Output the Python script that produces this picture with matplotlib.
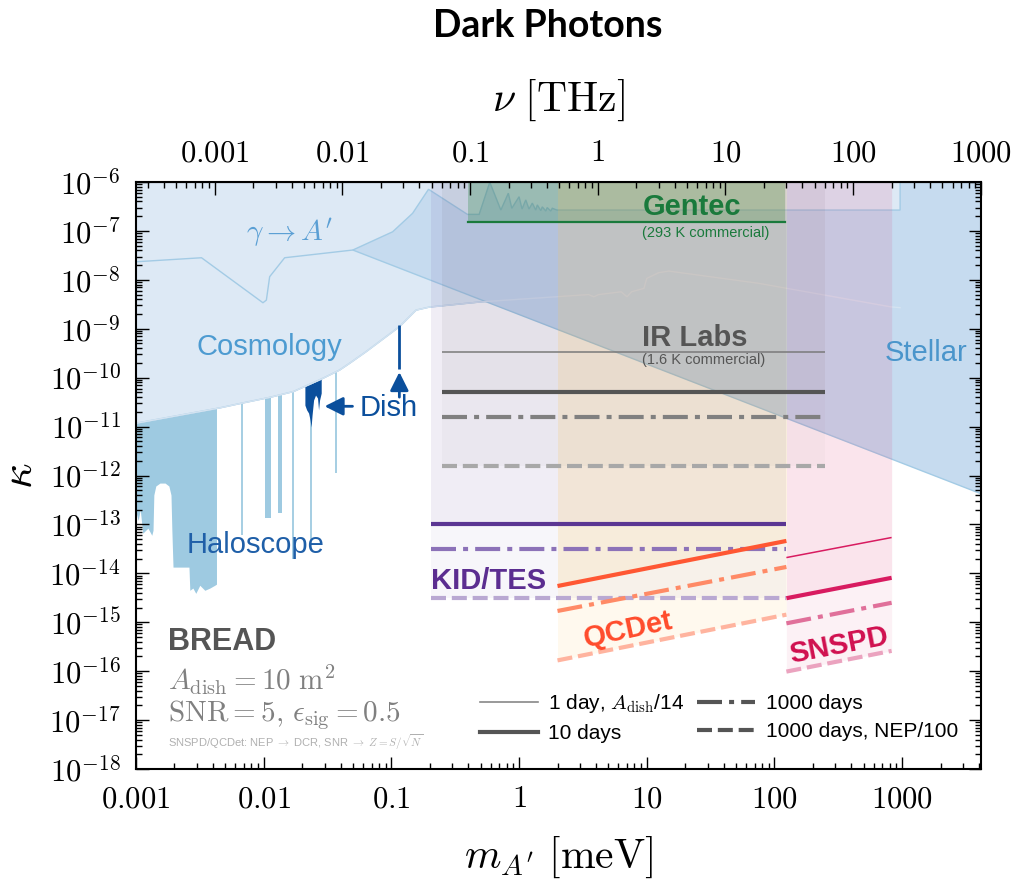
import numpy as np
import matplotlib.pyplot as plt
from matplotlib.lines import Line2D
from matplotlib.ticker import FixedLocator, FuncFormatter, LogLocator, NullFormatter

plt.rcParams['mathtext.fontset'] = 'cm'
plt.rcParams['font.family'] = ['Liberation Sans', 'DejaVu Sans']

MEV_PER_THZ = 4.1357
KTOP = 1e-6

# --- existing limits ---
# lower edge of the cosmology region
cosmo_m = [0.001, 0.0045, 0.0067, 0.0114, 0.0171, 0.0237, 0.0284, 0.0393, 0.047, 0.0634,
           0.1155, 0.156, 0.198, 0.514, 3.5, 3.85, 4.2, 6.3, 7.0, 7.6, 9.5, 10.0, 12.4,
           14.9, 75.0, 816.0, 964.0]
cosmo_k = [1.17e-11, 2.4e-11, 3.0e-11, 4.0e-11, 5.2e-11, 7.6e-11, 9.4e-11, 1.43e-10,
           1.96e-10, 3.4e-10, 1.1e-9, 2.4e-9, 2.77e-9, 3.56e-9, 5.0e-9, 4.5e-9, 5.0e-9,
           5.7e-9, 4.5e-9, 5.7e-9, 6.7e-9, 1.07e-8, 1.4e-8, 1.51e-8, 8.5e-9, 2.8e-9, 2.7e-9]

# gamma -> A' line left of the stellar wedge
gamma_m = [0.001, 0.00326, 0.00987, 0.0105, 0.01114, 0.0146, 0.0499]
gamma_k = [2.34e-8, 2.83e-8, 3.4e-9, 3.86e-9, 1.16e-8, 2.83e-8, 4.07e-8]

# stellar region: upper edge, then lower edge (~1/m)
stellar_top_m = [0.0499, 0.1023, 0.1466, 0.1954, 0.394, 0.487, 0.59, 0.72, 0.824, 0.877,
                 1.0, 1.055, 1.128, 1.197, 1.27, 1.35, 1.39, 1.48, 1.52, 1.62, 1.66, 1.77,
                 1.82, 1.98, 964.0, 964.0, 5000.0]
stellar_top_k = [4.07e-8, 9.6e-8, 2.29e-7, 7.1e-7, 2.18e-7, 2.18e-7, 9.9e-7, 2.67e-7, 5.9e-7,
                 2.9e-7, 5.0e-7, 2.8e-7, 4.3e-7, 2.8e-7, 3.7e-7, 2.67e-7, 3.4e-7, 2.6e-7,
                 3.1e-7, 2.55e-7, 3.0e-7, 2.55e-7, 2.9e-7, 2.67e-7, 2.67e-7, 1e-6, 1e-6]
stellar_low_m = [0.0499, 5000.0]
stellar_low_k = [4.07e-8, 3.5e-13]

# haloscope block (lower edge)
halo_m = [0.001, 0.00104, 0.00108, 0.00113, 0.00124, 0.00133, 0.00136, 0.00138, 0.00143,
          0.00154, 0.00169, 0.00181, 0.00188, 0.00191, 0.00195, 0.00221, 0.0026, 0.00264,
          0.00279, 0.00294, 0.00316, 0.00346, 0.00379, 0.00414, 0.00427]
halo_k = [1.8e-13, 1.2e-13, 2.0e-13, 6.6e-14, 8.4e-14, 6.0e-14, 7.6e-14, 4.0e-13, 6.1e-13,
          7.0e-13, 7.0e-13, 6.1e-13, 4.0e-13, 7.6e-14, 1.34e-14, 1.34e-14, 1.34e-14,
          4.5e-15, 5.0e-15, 3.9e-15, 5.7e-15, 4.5e-15, 5.0e-15, 5.7e-15, 6.0e-15]
# narrow haloscope exclusions
halo_line_m = [0.00673, 0.0171, 0.0236, 0.037]
halo_line_k = [6.0e-14, 2.0e-14, 4.8e-14, 1.14e-12]
halo_band_lo = [0.0102, 0.01303]
halo_band_hi = [0.01135, 0.01383]
halo_band_k = [1.35e-13, 1.7e-13]

# existing dish searches
dish_m = [0.02103, 0.0217, 0.02248, 0.02309, 0.02351, 0.02393, 0.0246, 0.02548, 0.02641,
          0.0269, 0.0274, 0.02822]
dish_k = [2.75e-11, 2.2e-11, 1.89e-11, 1.36e-11, 9.8e-12, 1.72e-11, 3.5e-11, 4.4e-11,
          3.83e-11, 2.2e-11, 3.5e-11, 4.84e-11]
dish_line_m = 0.1155
dish_line_k = [1.5e-10, 1.19e-9]

# --- BREAD projections ---
gentec_m = [0.40, 122.0]
gentec_k = [1.55e-7, 1.55e-7]

ir_m = [0.248, 248.0]
ir_1day = [3.4e-10, 3.4e-10]
ir_10day = [5.0e-11, 5.0e-11]
ir_1000day = [1.58e-11, 1.58e-11]
ir_nep = [1.58e-12, 1.58e-12]

kid_m = [0.205, 124.0]
kid_10day = [1.0e-13, 1.0e-13]
kid_1000day = [3.1e-14, 3.1e-14]
kid_nep = [3.2e-15, 3.2e-15]

qc_m = [2.0, 124.0]
qc_10day = [5.5e-15, 4.6e-14]
qc_1000day = [1.7e-15, 1.35e-14]
qc_nep = [1.66e-16, 1.43e-15]

sn_m = [124.0, 827.0]
sn_1day = [2.1e-14, 5.4e-14]
sn_10day = [3.1e-15, 8.1e-15]
sn_1000day = [9.5e-16, 2.5e-15]
sn_nep = [9.8e-17, 2.6e-16]

m_ticks = [0.001, 0.01, 0.1, 1, 10, 100, 1000]
nu_ticks = [0.001, 0.01, 0.1, 1, 10, 100, 1000]
k_ticks = [10.0 ** e for e in range(-18, -5)]

# colours
C_COSMO = '#dde9f5'
C_STELLAR = '#c6dbef'
C_EDGE = '#a3cbe5'
C_HALO = '#9ecae1'
C_DISH = '#0b4f9c'
DASHDOT = (0, (6, 1.7, 1.2, 1.7))
DASHED = (0, (3.6, 1.4))

fig = plt.figure(figsize=(10.14, 8.84), dpi=100)
ax = fig.add_axes([0.1341, 0.1301, 0.8333, 0.6640])
ax.set_xscale('log')
ax.set_yscale('log')
ax.set_xlim(1e-3, 4140)
ax.set_ylim(1e-18, 1e-6)

# haloscope + dish below the cosmology fill
ax.fill_between(halo_m, halo_k, KTOP, color=C_HALO, lw=0, zorder=1)
for lo, hi, k in zip(halo_band_lo, halo_band_hi, halo_band_k):
    ax.fill_between([lo, hi], [k, k], KTOP, color=C_HALO, lw=0, zorder=1)
ax.vlines(halo_line_m, halo_line_k, KTOP, color=C_HALO, lw=1.3, zorder=1)
ax.fill_between(dish_m, dish_k, 1e-9, color=C_DISH, lw=0, zorder=1)

ax.fill_between(cosmo_m, cosmo_k, KTOP, color=C_COSMO, lw=0, zorder=2)
ax.plot(cosmo_m, cosmo_k, color=C_EDGE, lw=1, zorder=2.1)
ax.plot(gamma_m, gamma_k, color=C_EDGE, lw=1, zorder=2.1)

st_m = stellar_top_m + stellar_low_m[::-1]
st_k = stellar_top_k + stellar_low_k[::-1]
ax.fill(st_m, st_k, facecolor=C_STELLAR, edgecolor=C_EDGE, lw=1, zorder=3)
# faint cosmology edge seen through the stellar region
ax.plot(cosmo_m, cosmo_k, color='#d4e3f1', lw=1, zorder=3.1)

# dish result
ax.vlines(dish_line_m, dish_line_k[0], dish_line_k[1], color=C_DISH, lw=2, zorder=6)
ax.annotate('', xy=(dish_line_m, 1.3e-10), xytext=(dish_line_m, 4.0e-11),
            arrowprops=dict(arrowstyle='-|>', color=C_DISH, lw=2, mutation_scale=28,
                            shrinkA=0, shrinkB=0), zorder=6)
ax.annotate('', xy=(0.030, 2.6e-11), xytext=(0.0496, 2.6e-11),
            arrowprops=dict(arrowstyle='-|>', color=C_DISH, lw=2, mutation_scale=28,
                            shrinkA=0, shrinkB=0), zorder=6)

# detector bands
def band(m, curves, color, alpha):
    for c in curves:
        ax.fill_between(m, c, KTOP, color=color, alpha=alpha, lw=0, zorder=4)

ax.fill_between(gentec_m, gentec_k, KTOP, color='#2f9a45', alpha=0.3, lw=0, zorder=4)
band(kid_m, [kid_nep, kid_10day], '#5a3594', 0.045)
band(ir_m, [ir_nep, ir_10day], '#555555', 0.035)
band(qc_m, [qc_nep, qc_10day], '#ffc24d', 0.09)
band(sn_m, [sn_nep, sn_10day], '#e2467e', 0.07)

def curves(m, c1, c10, c1000, cnep, cols, lw=3):
    kw = dict(solid_capstyle='butt', dash_capstyle='butt', zorder=5)
    if c1 is not None:
        ax.plot(m, c1, color=cols[0], lw=1.1, **kw)
    ax.plot(m, c10, color=cols[1], lw=lw, **kw)
    ax.plot(m, c1000, color=cols[2], lw=lw, ls=DASHDOT, **kw)
    ax.plot(m, cnep, color=cols[3], lw=lw, ls=DASHED, **kw)

ax.plot(gentec_m, gentec_k, color='#1a7a3c', lw=1.6, zorder=5)
curves(ir_m, ir_1day, ir_10day, ir_1000day, ir_nep, ['#7a7a7a', '#555555', '#808080', '#a8a8a8'])
curves(kid_m, None, kid_10day, kid_1000day, kid_nep, [None, '#5b3693', '#8c72b8', '#b9a8d2'])
curves(qc_m, None, qc_10day, qc_1000day, qc_nep, [None, '#ff5733', '#ff8a66', '#ffb49f'])
curves(sn_m, sn_1day, sn_10day, sn_1000day, sn_nep, ['#d81b60', '#d81b60', '#e0709a', '#eba3bf'])

# labels
tk = dict(zorder=7)
ax.text(0.016, 9.1e-8, r"$\gamma \rightarrow A'$", color='#5a9fd4', fontsize=21,
        ha='center', va='center', **tk)
ax.text(0.0111, 4.2e-10, 'Cosmology', color='#4d9bd1', fontsize=21, ha='center', va='center', **tk)
ax.text(1540, 3.2e-10, 'Stellar', color='#4a95cb', fontsize=21, ha='center', va='center', **tk)
ax.text(0.00866, 3.8e-14, 'Haloscope', color='#1f5fa8', fontsize=21, ha='center', va='center', **tk)
ax.text(0.0562, 2.4e-11, 'Dish', color=C_DISH, fontsize=21, ha='left', va='center', **tk)
ax.text(22.5, 3.08e-7, 'Gentec', color='#1a7a3c', fontsize=21, fontweight='bold',
        ha='center', va='center', **tk)
ax.text(9.14, 9.1e-8, '(293 K commercial)', color='#1a7a3c', fontsize=10.5,
        ha='left', va='center', **tk)
ax.text(9.14, 6.4e-10, 'IR Labs', color='#555555', fontsize=21, fontweight='bold',
        ha='left', va='center', **tk)
ax.text(9.14, 2.3e-10, '(1.6 K commercial)', color='#555555', fontsize=10.5,
        ha='left', va='center', **tk)
ax.text(0.204, 6.9e-15, 'KID/TES', color='#5b2d90', fontsize=21, fontweight='bold',
        ha='left', va='center', **tk)
ax.text(7.1, 6.9e-16, 'QCDet', color='#ff4b2b', fontsize=21, fontweight='bold',
        ha='center', va='center', rotation=12, rotation_mode='anchor', **tk)
ax.text(322, 3.4e-16, 'SNSPD', color='#d0104f', fontsize=21, fontweight='bold',
        ha='center', va='center', rotation=11, rotation_mode='anchor', **tk)
ax.text(0.00178, 4.0e-16, 'BREAD', color='#555555', fontsize=22, fontweight='bold',
        ha='left', va='center', **tk)
ax.text(0.00178, 6.6e-17, r'$A_{\rm dish} = 10\ {\rm m}^2$', color='#808080', fontsize=21,
        ha='left', va='center', **tk)
ax.text(0.00178, 1.26e-17, r'${\rm SNR} = 5,\, \epsilon_{\rm sig} = 0.5$', color='#808080',
        fontsize=21, ha='left', va='center', **tk)
ax.text(0.00178, 3.5e-18, r'SNSPD/QCDet: NEP $\rightarrow$ DCR, SNR $\rightarrow$ $Z = S/\sqrt{N}$',
        color='#b0b0b0', fontsize=8, ha='left', va='center', **tk)

# legend
handles = [Line2D([], [], color='#888888', lw=1.2),
           Line2D([], [], color='#555555', lw=3),
           Line2D([], [], color='#555555', lw=3, ls=DASHDOT),
           Line2D([], [], color='#555555', lw=3, ls=DASHED)]
labels = [r'1 day, $A_{\rm dish}$/14', '10 days', '1000 days', '1000 days, NEP/100']
leg = ax.legend(handles, labels, ncol=2, frameon=False, fontsize=15, loc='lower right',
                bbox_to_anchor=(0.995, 0.012), handlelength=2.8, columnspacing=0.6,
                labelspacing=0.45, handletextpad=0.5)
leg.set_zorder(8)

# axes styling
fmt_x = FuncFormatter(lambda v, p: f'${v:g}$')
fmt_y = FuncFormatter(lambda v, p: r'$10^{%d}$' % int(round(np.log10(v))))
ax.xaxis.set_major_locator(FixedLocator(m_ticks))
ax.xaxis.set_minor_locator(LogLocator(base=10, subs=np.arange(2, 10), numticks=100))
ax.xaxis.set_major_formatter(fmt_x)
ax.xaxis.set_minor_formatter(NullFormatter())
ax.yaxis.set_major_locator(FixedLocator(k_ticks))
ax.yaxis.set_minor_locator(LogLocator(base=10, subs=np.arange(2, 10), numticks=100))
ax.yaxis.set_major_formatter(fmt_y)
ax.yaxis.set_minor_formatter(NullFormatter())
ax.tick_params(which='both', direction='in', top=False, right=True, labelsize=22,
               width=1, color='black')
ax.tick_params(which='major', length=9, pad=11)
ax.tick_params(which='minor', length=4.5)
ax.xaxis.set_zorder(10)
ax.yaxis.set_zorder(10)
for s in ax.spines.values():
    s.set_linewidth(1.5)
    s.set_zorder(11)

sec = ax.secondary_xaxis('top', functions=(lambda m: m / MEV_PER_THZ,
                                            lambda n: n * MEV_PER_THZ))
sec.set_zorder(12)
sec.xaxis.set_major_locator(FixedLocator(nu_ticks))
sec.xaxis.set_minor_locator(LogLocator(base=10, subs=np.arange(2, 10), numticks=100))
sec.xaxis.set_major_formatter(fmt_x)
sec.xaxis.set_minor_formatter(NullFormatter())
sec.tick_params(which='both', direction='in', labelsize=22, width=1)
sec.tick_params(which='major', length=9, pad=10)
sec.tick_params(which='minor', length=4.5)
sec.set_xlabel(r'$\nu\ [\mathrm{THz}]$', fontsize=30, labelpad=20)

ax.set_xlabel(r"$m_{A'}\ [\mathrm{meV}]$", fontsize=30, labelpad=15)
ax.set_ylabel(r'$\kappa$', fontsize=32, labelpad=6)

fig.text(548 / 1014, 1 - 26 / 884, 'Dark Photons', ha='center', va='center',
         fontsize=27, fontweight='bold', family=['Lato', 'DejaVu Sans'])

fig.savefig('out.png', dpi=100)
